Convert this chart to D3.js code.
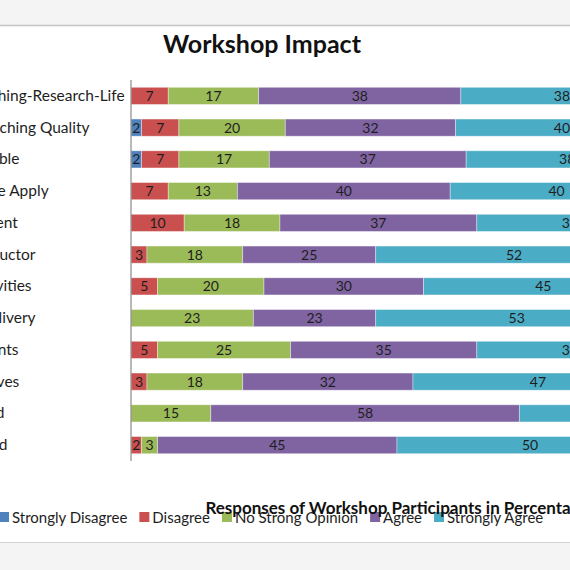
<!DOCTYPE html>
<html><head><meta charset="utf-8">
<script src="https://cdn.jsdelivr.net/npm/d3@7"></script>
<style>html,body{margin:0;padding:0;background:#f4f4f4;overflow:hidden}svg{display:block}</style>
</head><body>
<svg id="chart" width="570" height="570"></svg>
<script>
const categories = ["Linking Teaching-Research-Life","Enhance Teaching Quality","Highly Valuable","Shall Practice Apply","Useful Content","Helpful Instructor","Helpful Activities","Effective Delivery","Good Contents","Met Objectives","Well Planned","Well Satisfied"];
const seriesNames = ["Strongly Disagree","Disagree","No Strong Opinion","Agree","Strongly Agree"];
const stronglyDisagree = [0,2,2,0,0,0,0,0,0,0,0,0];
const disagree        = [7,7,7,7,10,3,5,0,5,3,0,2];
const noStrongOpinion = [17,20,17,13,18,18,20,23,25,18,15,3];
const agree           = [38,32,37,40,37,25,30,23,35,32,58,45];
const stronglyAgree   = [38,40,38,40,35,52,45,53,35,47,27,50];
const colors = ["#4f81bd","#c9504f","#9bbb59","#8064a2","#4bacc6"];
const chartTitle = "Workshop Impact";
const axisTitle = "Responses of Workshop Participants in Percentage";

const seriesValues = [stronglyDisagree, disagree, noStrongOpinion, agree, stronglyAgree];
const rows = categories.map((c,i)=>{const r={category:c}; seriesNames.forEach((s,j)=>r[s]=seriesValues[j][i]); return r;});
const stacked = d3.stack().keys(seriesNames)(rows);

const svg = d3.select("#chart");
const font = "Lato, 'Open Sans', sans-serif";

// frame
svg.append("rect").attr("x",0).attr("y",0).attr("width",570).attr("height",570).attr("fill","#f4f4f4");
svg.append("rect").attr("x",0).attr("y",26).attr("width",570).attr("height",516).attr("fill","#ffffff");
svg.append("line").attr("x1",0).attr("x2",570).attr("y1",25.5).attr("y2",25.5).attr("stroke","#c4c4c4").attr("stroke-width",1.5);
svg.append("line").attr("x1",0).attr("x2",570).attr("y1",542.5).attr("y2",542.5).attr("stroke","#d4d4d4").attr("stroke-width",1);

const x = d3.scaleLinear().domain([0,100]).range([131,663]);
const y = d3.scaleBand().domain(categories).range([80,461]).paddingInner(0.46).paddingOuter(0.23);

// title
svg.append("text").attr("x",262).attr("y",53).attr("text-anchor","middle")
  .attr("font-family",font).attr("font-weight","bold").attr("font-size",25).attr("fill","#111").text(chartTitle);

// bars
const g = svg.append("g");
stacked.forEach((layer,j)=>{
  g.selectAll(null).data(layer).join("rect")
    .attr("x",d=>x(d[0])).attr("y",d=>y(d.data.category))
    .attr("width",d=>x(d[1])-x(d[0])).attr("height",y.bandwidth())
    .attr("fill",colors[j]).attr("stroke","#ffffff").attr("stroke-opacity",0.45).attr("stroke-width",0.8);
  g.selectAll(null).data(layer.filter(d=>d[1]-d[0]>0)).join("text")
    .attr("x",d=>(x(d[0])+x(d[1]))/2).attr("y",d=>y(d.data.category)+y.bandwidth()/2+5)
    .attr("text-anchor","middle").attr("font-family",font).attr("font-size",14).attr("fill","#1e1e1e")
    .text(d=>d[1]-d[0]);
});

// axis line
svg.append("line").attr("x1",131).attr("x2",131).attr("y1",80).attr("y2",461).attr("stroke","#8a8a8a").attr("stroke-width",1.2);

// category labels (left aligned, start beyond the left edge as in the cropped reference)
svg.selectAll(null).data(categories).join("text")
  .attr("x",-85).attr("y",d=>y(d)+y.bandwidth()/2+5)
  .attr("font-family",font).attr("font-size",15.5).attr("fill","#1e1e1e").text(d=>d);

// legend
const leg = svg.append("g");
let lx = -1;
seriesNames.forEach((s,j)=>{
  leg.append("rect").attr("x",lx).attr("y",512).attr("width",10).attr("height",10).attr("fill",colors[j]);
  const t = leg.append("text").attr("x",lx+13).attr("y",523).attr("font-family",font).attr("font-size",15).attr("fill","#1e1e1e").text(s);
  lx += 13 + t.node().getComputedTextLength() + 12;
});

// axis title (overlapping legend, as in reference)
svg.append("text").attr("x",397).attr("y",514).attr("text-anchor","middle")
  .attr("font-family",font).attr("font-weight","bold").attr("font-size",17).attr("fill","#111").text(axisTitle);
</script>
</body></html>
